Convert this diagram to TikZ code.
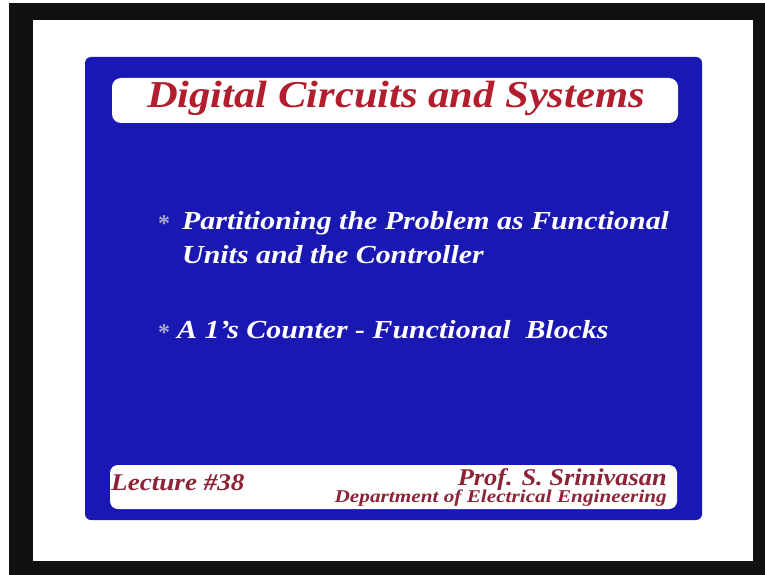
\documentclass[tikz,border=0pt]{standalone}
\usepackage{fontspec}
\setmainfont{Liberation Serif}
\definecolor{slideblue}{RGB}{26,24,178}
\definecolor{titlered}{RGB}{178,30,45}
\definecolor{footred}{RGB}{140,35,55}
\definecolor{framebk}{RGB}{17,17,17}
\definecolor{starc}{RGB}{170,170,205}
\begin{document}
\begin{tikzpicture}[x=1pt,y=-1pt,
  slidetext/.style={inner sep=0pt,font=\bfseries\itshape},
  bullettext/.style={slidetext,text=white,font=\fontsize{26}{30}\selectfont\bfseries\itshape},
  startext/.style={slidetext,text=starc,font=\fontsize{24}{26}\selectfont\bfseries},
  foottext/.style={slidetext,text=footred}]
\useasboundingbox (0,0) rectangle (765,575);
\fill[white] (0,0) rectangle (765,575);
\fill[framebk] (9,3) rectangle (765,575);
\fill[white] (33,20) rectangle (753,561);
% blue slide
\fill[slideblue,rounded corners=6pt] (85,57) rectangle (702,520);
% title box
\fill[white,rounded corners=9pt] (112,78) rectangle (678,123);
\node[slidetext,text=titlered,anchor=base,font=\fontsize{38}{44}\selectfont\bfseries\itshape] (title) at (396,108) {\scalebox{1.12}[1]{Digital Circuits and Systems}};
% bullets
\node[startext,anchor=base west] (s1) at (158,231) {*};
\node[bullettext,anchor=base west] (b1) at (182,229) {\scalebox{1.15}[1]{Partitioning the Problem as Functional}};
\node[bullettext,anchor=base west] (b2) at (182,263) {\scalebox{1.15}[1]{Units and the Controller}};
\node[startext,anchor=base west] (s2) at (158,340) {*};
\node[bullettext,anchor=base west] (b3) at (177,338) {\scalebox{1.15}[1]{A 1's Counter - Functional\ \ Blocks}};
% footer box
\fill[white,rounded corners=8pt] (110,465) rectangle (677,509);
\node[foottext,anchor=base west,font=\fontsize{24}{28}\selectfont\bfseries\itshape] (lec) at (111,490) {\scalebox{1.13}[1]{Lecture \#38}};
\node[foottext,anchor=base east,font=\fontsize{24}{28}\selectfont\bfseries\itshape] (prof) at (667,485) {\scalebox{1.1}[1]{Prof. S. Srinivasan}};
\node[foottext,anchor=base east,font=\fontsize{18}{22}\selectfont\bfseries\itshape] (dept) at (667,502) {\scalebox{1.18}[1]{Department of Electrical Engineering}};
\end{tikzpicture}
\end{document}
